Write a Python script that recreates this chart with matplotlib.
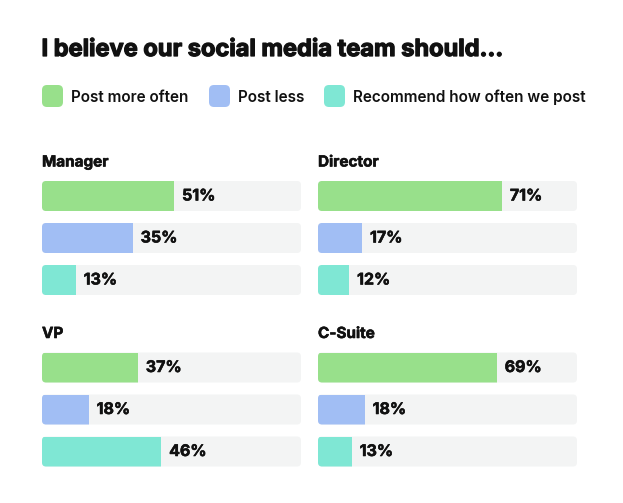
import numpy as np
import matplotlib
matplotlib.use("Agg")
from matplotlib import pyplot as plt
from matplotlib.patches import FancyBboxPatch
import matplotlib.patheffects as pe

# Data
title = "I believe our social media team should..."
series = ["Post more often", "Post less", "Recommend how often we post"]
colors = ["#98e08b", "#a1bef4", "#7fe7d4"]
groups = ["Manager", "Director", "VP", "C-Suite"]
manager = [51, 35, 13]
director = [71, 17, 12]
vp = [37, 18, 46]
csuite = [69, 18, 13]
values = [manager, director, vp, csuite]

track_color = "#f3f4f4"
text_color = "#111111"
W, H = 623, 503

plt.rcParams['font.family'] = ['Inter', 'DejaVu Sans']

fig = plt.figure(figsize=(W / 100, H / 100), dpi=100)
fig.patch.set_facecolor("white")

# overlay axes in pixel coords for title, legend, panel titles
over = fig.add_axes([0, 0, 1, 1])
over.set_xlim(0, W)
over.set_ylim(H, 0)
over.axis("off")

thick = [pe.withStroke(linewidth=0.9, foreground=text_color)]
semi = [pe.withStroke(linewidth=0.4, foreground=text_color)]

over.text(41.5, 56, title, fontsize=17, fontweight="bold", color=text_color, va="baseline",
	path_effects=thick)

# legend
leg_x = [42, 209, 324]
for lx, name, col in zip(leg_x, series, colors):
	over.add_patch(FancyBboxPatch((lx, 85), 21, 22, boxstyle="round,pad=0,rounding_size=5",
		fc=col, ec="none"))
	over.text(lx + 29, 101.5, name, fontsize=11, fontweight="semibold", color=text_color, va="baseline")

# panels: left px, track width px, title baseline px
panel_x = [42, 318, 42, 318]
panel_base = [166.5, 166.5, 338, 338]
track_w = 259
spacing = 42

for g, vals, px, pb in zip(groups, values, panel_x, panel_base):
	over.text(px, pb, g, fontsize=11, fontweight="bold", color=text_color, va="baseline",
		path_effects=semi)

	top = pb + 14.5 - (spacing - 30) / 2
	ax = fig.add_axes([px / W, 1 - (top + 3 * spacing) / H, track_w / W, 3 * spacing / H])
	ax.set_xlim(0, 100)
	ax.set_ylim(2.5, -0.5)
	ax.axis("off")

	ux = 100 / track_w
	uy = 3 / (3 * spacing)
	h = 30 / spacing
	y = np.arange(3)
	bars = ax.barh(y, vals, height=h, color=colors, zorder=2)
	for yi, b, v in zip(y, bars, vals):
		track = FancyBboxPatch((0, yi - h / 2), 100, h,
			boxstyle="round,pad=0,rounding_size=%f" % (4 * ux),
			mutation_aspect=uy / ux, fc=track_color, ec="none", zorder=1)
		ax.add_patch(track)
		b.set_clip_path(track)
		ax.text(v + 8 * ux, yi, "%d%%" % v, fontsize=11.5, fontweight="bold",
			color=text_color, va="center", ha="left", zorder=3, path_effects=semi)

fig.savefig("out.png", dpi=100, facecolor="white")
